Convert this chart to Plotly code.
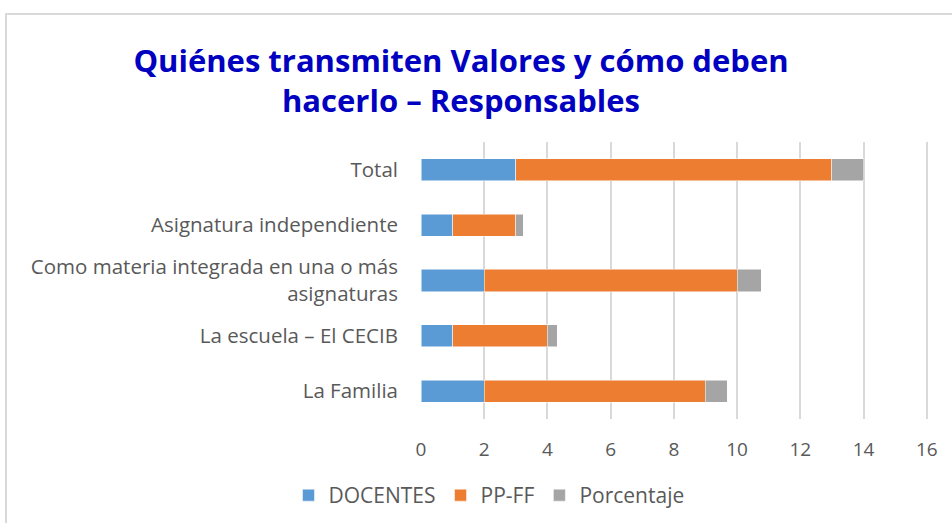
import plotly.graph_objects as go

categories = ["La Familia", "La escuela – El CECIB",
              "Como materia integrada en una o más<br>asignaturas",
              "Asignatura independiente", "Total"]
docentes = [2, 1, 2, 1, 3]
ppff = [7, 3, 8, 2, 10]
porcentaje = [0.69, 0.31, 0.77, 0.23, 1.0]
x_ticks = [0, 2, 4, 6, 8, 10, 12, 14, 16]

FONT = "Open Sans"
fig = go.Figure()
fig.add_trace(go.Bar(y=categories, x=docentes, name="DOCENTES", orientation="h",
                     marker=dict(color="#5B9BD5", line=dict(color="white", width=0.5))))
fig.add_trace(go.Bar(y=categories, x=ppff, name="PP-FF", orientation="h",
                     marker=dict(color="#ED7D31", line=dict(color="white", width=0.5))))
fig.add_trace(go.Bar(y=categories, x=porcentaje, name="Porcentaje", orientation="h",
                     marker=dict(color="#A5A5A5", line=dict(color="white", width=0.5))))

fig.update_layout(
    barmode="stack", bargap=0.6,
    width=952, height=523,
    margin=dict(l=421, r=24, t=142, b=104, autoexpand=False),
    paper_bgcolor="white", plot_bgcolor="white",
    font=dict(family=FONT, color="#595959", size=19),
    title=dict(text="Quiénes transmiten Valores y cómo deben<br>hacerlo – Responsables",
               x=461/952, xanchor="center", y=0.862, yanchor="top",
               font=dict(family=FONT, size=31, color="#0000C0", weight="bold")),
    xaxis=dict(range=[0, 16.04], tickvals=x_ticks, showgrid=True, gridcolor="#D9D9D9",
               gridwidth=2, zeroline=False, showline=False, ticklabelstandoff=17,
               tickfont=dict(size=19, color="#595959"), ticks=""),
    yaxis=dict(showgrid=False, ticks="", ticklabelstandoff=22,
               tickfont=dict(size=20.5, color="#595959"), automargin=False),
    legend=dict(orientation="h", x=(489-421)/507, xanchor="center",
                yref="container", y=1-475/523, yanchor="top",
                font=dict(size=21, color="#595959"), traceorder="normal"),
    shapes=[dict(type="rect", xref="paper", yref="paper",
                 x0=(6-421)/507, x1=1.2, y0=-0.6, y1=(419-14)/277,
                 line=dict(color="#D9D9D9", width=2), layer="below")],
)
fig.write_html("out.html", config={"displayModeBar": False},
               post_script="document.body.style.margin='0';")
